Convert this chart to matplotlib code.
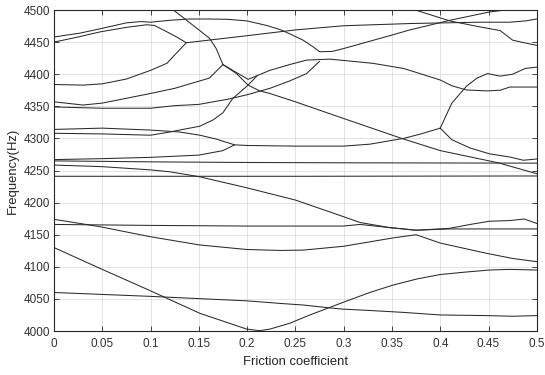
import numpy as np
import matplotlib.pyplot as plt

plt.rcParams['font.family'] = ['Liberation Sans', 'DejaVu Sans']

# 마찰계수(mu)에 따른 각 모드의 고유진동수(Hz) - 그림에서 읽은 값
mode_a_mu = [0, 0.027, 0.05, 0.075, 0.09, 0.1, 0.12, 0.14, 0.16, 0.18, 0.2, 0.22, 0.235, 0.244,
             0.258, 0.268, 0.275, 0.288, 0.3, 0.35, 0.3685, 0.41, 0.451, 0.465, 0.48]
mode_a_hz = [4458, 4464, 4471.5, 4480, 4482, 4481, 4484, 4486, 4486, 4485.5, 4483, 4476, 4469, 4463,
             4453, 4443, 4435, 4435.5, 4440, 4461, 4469, 4484, 4497, 4499.5, 4500.5]

mode_b_mu = [0, 0.025, 0.048, 0.075, 0.096, 0.104, 0.117, 0.127, 0.137, 0.2, 0.25, 0.3, 0.37,
             0.44, 0.472, 0.488, 0.5]
mode_b_hz = [4450, 4458, 4466, 4473, 4477, 4476, 4466, 4458, 4449, 4460, 4469, 4475.5, 4479,
             4481, 4481, 4483, 4486]

mode_c_mu = [0, 0.03, 0.05, 0.075, 0.1, 0.117, 0.125, 0.137]
mode_c_hz = [4384, 4383, 4385, 4392.5, 4406, 4417, 4430, 4449]

mode_d_mu = [0.122, 0.151, 0.161, 0.168, 0.175, 0.189, 0.201, 0.213, 0.2236, 0.25, 0.3, 0.36,
             0.4, 0.46, 0.5]
mode_d_hz = [4502, 4468, 4456, 4440, 4415, 4401, 4383, 4374, 4370, 4357, 4331, 4300,
             4281, 4262, 4245]

mode_e_mu = [0, 0.03, 0.05, 0.1, 0.125, 0.161, 0.175]
mode_e_hz = [4357, 4352, 4355, 4370, 4378, 4394, 4415]

mode_f_mu = [0, 0.05, 0.1, 0.125, 0.15, 0.18, 0.2, 0.2236, 0.244, 0.2616, 0.275]
mode_f_hz = [4349, 4347, 4347, 4351, 4353, 4361, 4368, 4378, 4389.5, 4401, 4420]

mode_g_mu = [0.37, 0.41, 0.44, 0.462, 0.475, 0.49, 0.5]
mode_g_hz = [4502, 4483, 4474, 4468, 4453, 4448, 4445]

mode_h_mu = [0, 0.05, 0.1, 0.13, 0.151, 0.168, 0.187, 0.2, 0.25, 0.3, 0.327, 0.362, 0.38, 0.4]
mode_h_hz = [4314, 4316, 4313, 4310, 4305, 4299, 4290, 4289, 4288, 4288, 4291, 4300, 4307, 4316]

mode_i_mu = [0, 0.05, 0.1, 0.12, 0.13, 0.151, 0.165, 0.175, 0.185, 0.201, 0.21]
mode_i_hz = [4308, 4307, 4305, 4310, 4313, 4319, 4329, 4340, 4362, 4383, 4397]

mode_j_mu = [0, 0.05, 0.1, 0.15, 0.175, 0.187]
mode_j_hz = [4267, 4268.5, 4270.5, 4274, 4281, 4290]

mode_k_mu = [0.175, 0.201, 0.2236, 0.244, 0.2616, 0.2857, 0.33, 0.362, 0.4, 0.412, 0.427,
             0.448, 0.462, 0.472, 0.5]
mode_k_hz = [4415, 4392, 4406, 4415, 4422, 4423.5, 4417, 4409, 4391, 4382, 4375.5,
             4374, 4375, 4380, 4380]

mode_s_mu = [0.4, 0.412, 0.427, 0.438, 0.449, 0.462, 0.475, 0.488, 0.5]
mode_s_hz = [4316, 4355, 4381, 4394, 4401, 4397, 4400, 4409, 4411]

mode_r_mu = [0.4, 0.412, 0.431, 0.451, 0.472, 0.486, 0.5]
mode_r_hz = [4316, 4298, 4285, 4276, 4271, 4266, 4268]

mode_l1_mu = [0, 0.1, 0.2, 0.3, 0.5]
mode_l1_hz = [4265, 4263.5, 4262.5, 4262, 4261.5]

mode_l2_mu = [0, 0.25, 0.5]
mode_l2_hz = [4241, 4241, 4241.5]

mode_m_mu = [0, 0.05, 0.1, 0.12, 0.15, 0.2, 0.2236, 0.25, 0.3, 0.317, 0.348, 0.375, 0.41, 0.5]
mode_m_hz = [4258.5, 4256, 4251, 4248, 4240.5, 4223, 4214, 4204, 4178, 4169, 4161, 4157, 4159, 4159]

mode_n_mu = [0, 0.1, 0.2, 0.3, 0.317, 0.348, 0.375, 0.41, 0.431, 0.451, 0.472, 0.487, 0.5]
mode_n_hz = [4166, 4164.5, 4163.5, 4163.5, 4166, 4161, 4157, 4160, 4166, 4171, 4172, 4174.5, 4167.5]

mode_o_mu = [0, 0.0476, 0.0994, 0.151, 0.1995, 0.234, 0.258, 0.279, 0.3, 0.351, 0.375,
             0.4, 0.424, 0.448, 0.475, 0.5]
mode_o_hz = [4174, 4162.5, 4147, 4134, 4127, 4125.5, 4126, 4129, 4132, 4145, 4150,
             4137, 4129, 4121, 4113, 4108]

mode_p_mu = [0, 0.0476, 0.0994, 0.151, 0.1995, 0.213, 0.2236, 0.244, 0.265, 0.3, 0.327,
             0.351, 0.3757, 0.4, 0.424, 0.451, 0.472, 0.5]
mode_p_hz = [4130, 4097.6, 4063, 4027.6, 4003, 4000.5, 4003, 4012, 4025, 4045, 4060,
             4071.5, 4081, 4088, 4091.5, 4095, 4096, 4095]

mode_q_mu = [0, 0.0994, 0.1995, 0.234, 0.258, 0.2857, 0.3, 0.327, 0.362, 0.4, 0.448, 0.475, 0.5]
mode_q_hz = [4060, 4054, 4047, 4043, 4040.5, 4036, 4034, 4032, 4029, 4025, 4024, 4023, 4024]

modes = [
    (mode_a_mu, mode_a_hz), (mode_b_mu, mode_b_hz), (mode_c_mu, mode_c_hz),
    (mode_d_mu, mode_d_hz), (mode_e_mu, mode_e_hz), (mode_f_mu, mode_f_hz),
    (mode_g_mu, mode_g_hz), (mode_h_mu, mode_h_hz), (mode_i_mu, mode_i_hz),
    (mode_j_mu, mode_j_hz), (mode_k_mu, mode_k_hz), (mode_s_mu, mode_s_hz),
    (mode_r_mu, mode_r_hz), (mode_l1_mu, mode_l1_hz), (mode_l2_mu, mode_l2_hz),
    (mode_m_mu, mode_m_hz), (mode_n_mu, mode_n_hz), (mode_o_mu, mode_o_hz),
    (mode_p_mu, mode_p_hz), (mode_q_mu, mode_q_hz),
]

x_ticks = [0, 0.05, 0.1, 0.15, 0.2, 0.25, 0.3, 0.35, 0.4, 0.45, 0.5]
x_tick_labels = ['0', '0.05', '0.1', '0.15', '0.2', '0.25', '0.3', '0.35', '0.4', '0.45', '0.5']
y_ticks = [4000, 4050, 4100, 4150, 4200, 4250, 4300, 4350, 4400, 4450, 4500]

fig = plt.figure(figsize=(5.45, 3.75), dpi=100)
ax = fig.add_axes([0.099, 0.1173, 0.886, 0.856])

for mu, hz in modes:
    ax.plot(mu, hz, color='#2b2b2b', linewidth=0.75)

ax.set_xlim(0, 0.5)
ax.set_ylim(4000, 4500)
ax.set_xticks(x_ticks)
ax.set_xticklabels(x_tick_labels)
ax.set_yticks(y_ticks)

# MATLAB 스타일 축 꾸미기
ax.grid(True, color='#dedede', linewidth=0.6)
ax.set_axisbelow(True)
ax.tick_params(direction='in', length=3.5, width=0.6, top=True, right=True,
               colors='#262626', labelsize=8.5, labelcolor='#333333')
ax.tick_params(axis='x', pad=5)
ax.tick_params(axis='y', pad=3)
for s in ax.spines.values():
    s.set_color('#262626')
    s.set_linewidth(0.8)

ax.set_xlabel('Friction coefficient', fontsize=9.4, color='#262626', labelpad=4)
ax.set_ylabel('Frequency(Hz)', fontsize=9.4, color='#262626', labelpad=3)

fig.savefig('out.png', dpi=100)
